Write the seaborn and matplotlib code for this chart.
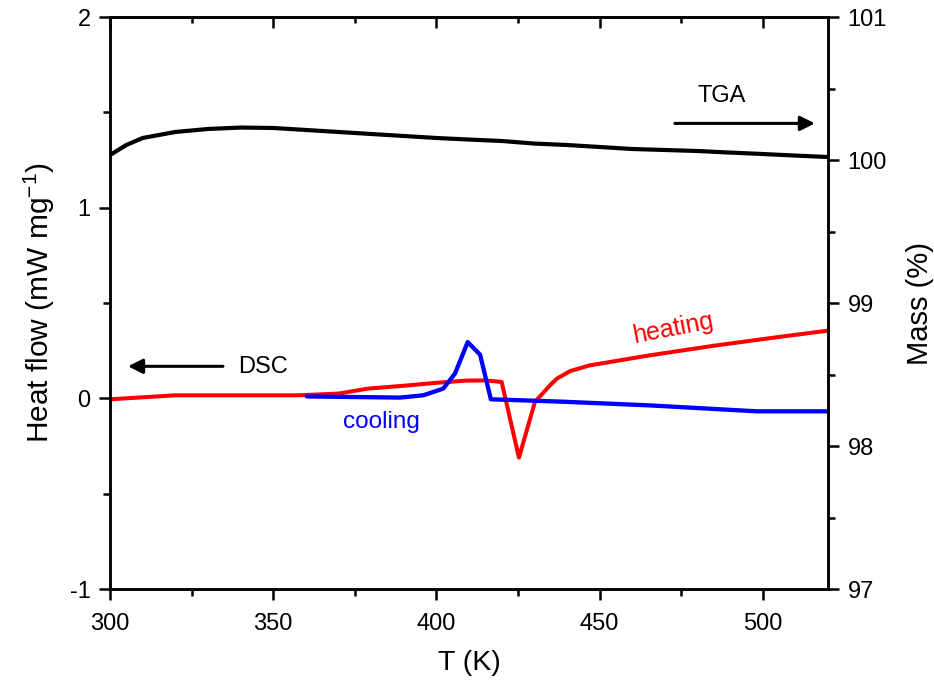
import matplotlib
matplotlib.use("Agg")
import matplotlib.pyplot as plt
from matplotlib.ticker import MultipleLocator
import seaborn as sns
import pandas as pd

# DSC heating run (K, mW/mg)
heat_T = [300, 320, 340, 358, 370, 379, 390, 399, 409, 415, 420, 425.3, 430.2,
          434.8, 436.9, 441, 447, 465.5, 485.9, 506.3, 520]
heat_q = [-0.005, 0.016, 0.016, 0.016, 0.025, 0.051, 0.066, 0.08, 0.093, 0.094, 0.086,
          -0.311, -0.019, 0.068, 0.103, 0.143, 0.173, 0.226, 0.278, 0.325, 0.355]

# DSC cooling run (K, mW/mg)
cool_T = [360.3, 375, 388.9, 396, 402.1, 405.7, 409.6, 413.4, 416.7, 437.9,
          465.5, 498.1, 520]
cool_q = [0.01, 0.007, 0.004, 0.016, 0.051, 0.13, 0.295, 0.229, -0.005, -0.017,
          -0.037, -0.068, -0.068]

# TGA mass (K, %)
tga_T = [300, 305, 310, 320, 330, 340, 350, 360, 370, 380, 390, 400, 410, 420,
         430, 440, 450, 460, 470, 480, 490, 500, 510, 520]
tga_m = [100.035, 100.105, 100.154, 100.196, 100.217, 100.227, 100.224, 100.210,
         100.196, 100.182, 100.168, 100.154, 100.143, 100.133, 100.115, 100.105,
         100.091, 100.077, 100.070, 100.063, 100.052, 100.042, 100.031, 100.021]

heat = pd.DataFrame({"T": heat_T, "q": heat_q})
cool = pd.DataFrame({"T": cool_T, "q": cool_q})
tga = pd.DataFrame({"T": tga_T, "m": tga_m})

sns.set_style("ticks")
plt.rcParams["font.family"] = ["Liberation Sans", "DejaVu Sans"]
plt.rcParams["axes.unicode_minus"] = False
plt.rcParams["text.color"] = "black"
plt.rcParams["axes.labelcolor"] = "black"
plt.rcParams["xtick.color"] = "black"
plt.rcParams["ytick.color"] = "black"
plt.rcParams["axes.linewidth"] = 1.8

fig = plt.figure(figsize=(9.34, 6.83), dpi=100)
ax = fig.add_axes([0.1178, 0.1376, 0.7687, 0.8375])
ax2 = ax.twinx()

sns.lineplot(data=tga, x="T", y="m", ax=ax2, color="black", lw=3.0, sort=False)
sns.lineplot(data=heat, x="T", y="q", ax=ax, color="#ff0000", lw=2.9, sort=False)
sns.lineplot(data=cool, x="T", y="q", ax=ax, color="#0000ff", lw=3.1, sort=False)

ax.set_xlim(300, 520)
ax.set_ylim(-1, 2)
ax2.set_ylim(97, 101)

ax.xaxis.set_major_locator(MultipleLocator(50))
ax.xaxis.set_minor_locator(MultipleLocator(25))
ax.yaxis.set_major_locator(MultipleLocator(1))
ax.yaxis.set_minor_locator(MultipleLocator(0.5))
ax2.yaxis.set_major_locator(MultipleLocator(1))
ax2.yaxis.set_minor_locator(MultipleLocator(0.5))

for a in (ax, ax2):
    for s in a.spines.values():
        s.set_visible(True)
        s.set_linewidth(1.8)
        s.set_color("black")

ax.tick_params(axis="both", which="major", direction="out", length=8, width=1.8,
               labelsize=17, pad=6, colors="black")
ax.tick_params(axis="x", which="major", pad=9)
ax.tick_params(axis="both", which="minor", direction="out", length=5, width=1.8)
ax.tick_params(axis="y", left=True, right=False, which="both")
ax2.tick_params(axis="y", which="major", direction="out", length=8, width=1.8,
                labelsize=17, pad=6, colors="black")
ax2.tick_params(axis="y", which="minor", direction="out", length=5, width=1.8)

top = ax.secondary_xaxis("top")
top.xaxis.set_major_locator(MultipleLocator(50))
top.xaxis.set_minor_locator(MultipleLocator(25))
top.tick_params(axis="x", which="major", direction="in", length=8, width=1.8,
                labeltop=False)
top.tick_params(axis="x", which="minor", direction="in", length=4, width=1.8)
top.spines["top"].set_linewidth(1.8)

ax.set_xlabel("T (K)", fontsize=20.5, labelpad=11)
ax.set_ylabel("Heat flow (mW mg$^{\\mathregular{-1}}$)", fontsize=21.5, labelpad=9)
ax2.set_ylabel("Mass (%)", fontsize=21, labelpad=14)

arrow = dict(arrowstyle="-|>", color="black", lw=2.2, mutation_scale=22,
             shrinkA=0, shrinkB=0)
ax.annotate("", xy=(305.5, 0.168), xytext=(334.6, 0.168), arrowprops=arrow)
ax.annotate("", xy=(516.0, 1.442), xytext=(473.1, 1.442), arrowprops=arrow)
ax.text(346.9, 0.163, "DSC", fontsize=17, ha="center", va="center")
ax.text(487.5, 1.584, "TGA", fontsize=17, ha="center", va="center")
ax.text(383.3, -0.126, "cooling", fontsize=17.5, ha="center", va="center",
        color="#0000ff")
ax.text(472.5, 0.367, "heating", fontsize=18, ha="center", va="center",
        color="#ff0000", rotation=11)

fig.savefig("out.png", dpi=100)
